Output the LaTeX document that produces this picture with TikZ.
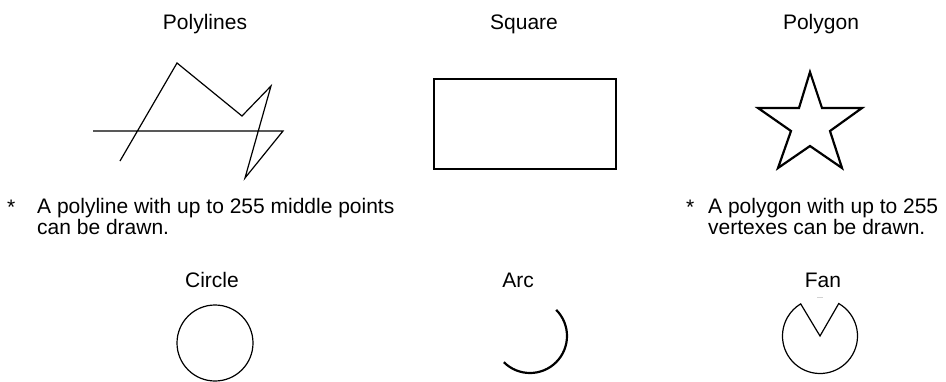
\documentclass[tikz,border=0pt]{standalone}
\usepackage{fontspec}
\setmainfont{Liberation Sans}
\begin{document}
\begin{tikzpicture}[x=1pt,y=-1pt,
  label text/.style={font=\fontsize{21}{18}\selectfont,inner sep=0pt},
  title/.style={label text,anchor=base},
  note/.style={label text,anchor=base west,align=left},
  thin line/.style={line width=1.2pt},
  thick line/.style={line width=2.2pt}]
  \useasboundingbox (0,0) rectangle (946,381);

  \node[title] (titlePolylines) at (205,29) {Polylines};
  \draw[thin line] (120,161) -- (177,63) -- (242,116) -- (271,86) -- (245,178) -- (283,131) -- (93,131);
  \node[note] (starPolylines) at (7,214) {*};
  \node[note] (notePolylines) at (37,234) {A polyline with up to 255 middle points\\can be drawn.};

  \node[title] (titleSquare) at (524,29) {Square};
  \draw[thin line] (434,79) rectangle (616,169);

  \node[title] (titlePolygon) at (821,29) {Polygon};
  \draw[thick line,line join=miter] (810,72) -- (822,108) -- (862,108) -- (830,131) -- (842,168)
    -- (810,146) -- (778,168) -- (791,131) -- (758,108) -- (799,108) -- cycle;
  \node[note] (starPolygon) at (686,214) {*};
  \node[note] (notePolygon) at (708,234) {A polygon with up to 255\\vertexes can be drawn.};

  \node[title] (titleCircle) at (212,287) {Circle};
  \draw[thin line] (215,343) circle[radius=38];

  \node[title] (titleArc) at (518,287) {Arc};
  \draw[thick line] (530,336) ++(-45:37) arc[start angle=-45,end angle=135,radius=37];

  \node[title] (titleFan) at (823,287) {Fan};
  \draw[thin line] (820,336) -- ++(-60:37.5) arc[start angle=-60,end angle=239,radius=37.5] -- cycle;
  \draw[gray!35,line width=1pt] (817,297) -- (823,297);
\end{tikzpicture}
\end{document}
